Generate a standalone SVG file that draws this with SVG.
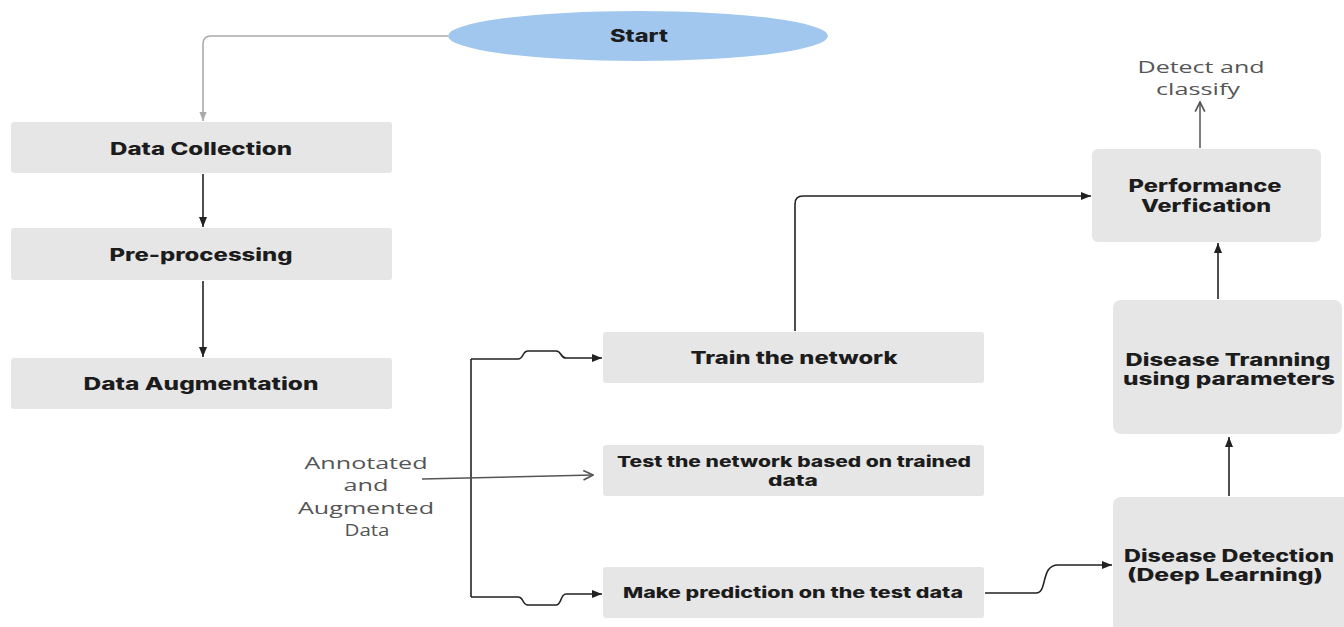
<svg xmlns="http://www.w3.org/2000/svg" width="1344" height="627" viewBox="0 0 1344 627">
<style>
.box{fill:#e6e6e6;}
.t{font-family:"Inter","Noto Sans","DejaVu Sans",sans-serif;font-weight:800;font-size:17px;fill:#1c1c1c;text-anchor:middle;}
.ts{font-size:15px;}
.lbl{font-family:"Open Sans","Noto Sans",sans-serif;font-size:16px;fill:#555;text-anchor:middle;}
.c{fill:none;stroke:#222;stroke-width:1.6;}
.cg{fill:none;stroke:#aaa;stroke-width:1.6;}
.co{fill:none;stroke:#555;stroke-width:1.5;}
</style>
<defs>
<marker id="arr" viewBox="0 0 10 10" refX="10" refY="5" markerWidth="10" markerHeight="10" markerUnits="userSpaceOnUse" orient="auto"><path d="M0,1 L10,5 L0,9 z" fill="#222"/></marker>
<marker id="arrg" viewBox="0 0 10 10" refX="10" refY="5" markerWidth="9" markerHeight="9" markerUnits="userSpaceOnUse" orient="auto"><path d="M0,1 L10,5 L0,9 z" fill="#aaa"/></marker>
<marker id="arro" viewBox="0 0 10 10" refX="9" refY="5" markerWidth="12" markerHeight="12" markerUnits="userSpaceOnUse" orient="auto"><path d="M1,1 L9,5 L1,9" fill="none" stroke="#555" stroke-width="1.4"/></marker>
</defs>
<rect width="1344" height="627" fill="#ffffff"/>
<g id="connectors">
<path class="cg" d="M448,36 H211 Q203,36 203,44 V121" marker-end="url(#arrg)"/>
<path class="c" d="M203,174 V227" marker-end="url(#arr)"/>
<path class="c" d="M203,281 V357" marker-end="url(#arr)"/>
<path class="c" d="M471,359 V597"/>
<path class="c" d="M471,359 H518 C524,359 522,351 528,351 H556 C562,351 560,358 566,358 H602" marker-end="url(#arr)"/>
<path class="c" d="M471,597 H518 C524,597 522,605 528,605 H556 C562,605 560,594 566,594 H602" marker-end="url(#arr)"/>
<path class="co" d="M422,479 L593,475" marker-end="url(#arro)"/>
<path class="c" d="M795,331 V204 Q795,196 803,196 H1091" marker-end="url(#arr)"/>
<path class="c" d="M985,593 H1036 C1048,593 1040,565 1058,565 H1112" marker-end="url(#arr)"/>
<path class="c" d="M1229,496 V437" marker-end="url(#arr)"/>
<path class="c" d="M1218,299 V243" marker-end="url(#arr)"/>
<path class="co" d="M1200,148 V102" marker-end="url(#arro)"/>
</g>
<g id="start">
<ellipse cx="638" cy="36" rx="190" ry="25" fill="#a1c7ef"/>
<text class="t" x="639" y="42" textLength="58" lengthAdjust="spacingAndGlyphs">Start</text>
</g>
<g id="data-collection">
<rect class="box" x="11" y="122" width="381" height="51" rx="3"/>
<text class="t" x="201" y="155" textLength="182" lengthAdjust="spacingAndGlyphs">Data Collection</text>
</g>
<g id="pre-processing">
<rect class="box" x="11" y="228" width="381" height="52" rx="3"/>
<text class="t" x="201" y="261" textLength="183" lengthAdjust="spacingAndGlyphs">Pre-processing</text>
</g>
<g id="data-augmentation">
<rect class="box" x="11" y="358" width="381" height="51" rx="3"/>
<text class="t" x="201" y="390" textLength="235" lengthAdjust="spacingAndGlyphs">Data Augmentation</text>
</g>
<g id="annotated-label">
<text class="lbl" x="366" y="469" textLength="123" lengthAdjust="spacingAndGlyphs">Annotated</text>
<text class="lbl" x="366" y="491" textLength="45" lengthAdjust="spacingAndGlyphs">and</text>
<text class="lbl" x="366" y="514" textLength="136" lengthAdjust="spacingAndGlyphs">Augmented</text>
<text class="lbl" x="367" y="536" textLength="45" lengthAdjust="spacingAndGlyphs">Data</text>
</g>
<g id="train">
<rect class="box" x="603" y="332" width="381" height="51" rx="3"/>
<text class="t" x="794" y="364" textLength="207" lengthAdjust="spacingAndGlyphs">Train the network</text>
</g>
<g id="test">
<rect class="box" x="603" y="445" width="381" height="51" rx="3"/>
<text class="t ts" x="794" y="467" textLength="354" lengthAdjust="spacingAndGlyphs">Test the network based on trained</text>
<text class="t ts" x="793" y="486" textLength="50" lengthAdjust="spacingAndGlyphs">data</text>
</g>
<g id="predict">
<rect class="box" x="603" y="567" width="381" height="51" rx="3"/>
<text class="t ts" x="793" y="598" textLength="340" lengthAdjust="spacingAndGlyphs">Make prediction on the test data</text>
</g>
<g id="disease-detection">
<rect class="box" x="1113" y="497" width="240" height="140" rx="8"/>
<text class="t" x="1229" y="562" textLength="210" lengthAdjust="spacingAndGlyphs">Disease Detection</text>
<text class="t" x="1225" y="581" textLength="196" lengthAdjust="spacingAndGlyphs">(Deep Learning)</text>
</g>
<g id="disease-training">
<rect class="box" x="1113" y="300" width="229" height="134" rx="8"/>
<text class="t" x="1228" y="366" textLength="205" lengthAdjust="spacingAndGlyphs">Disease Tranning</text>
<text class="t" x="1229" y="385" textLength="212" lengthAdjust="spacingAndGlyphs">using parameters</text>
</g>
<g id="performance">
<rect class="box" x="1092" y="149" width="229" height="93" rx="6"/>
<text class="t" x="1205" y="192" textLength="153" lengthAdjust="spacingAndGlyphs">Performance</text>
<text class="t" x="1206" y="212" textLength="130" lengthAdjust="spacingAndGlyphs">Verfication</text>
</g>
<g id="detect-label">
<text class="lbl" x="1201" y="73" textLength="127" lengthAdjust="spacingAndGlyphs">Detect and</text>
<text class="lbl" x="1198" y="95" textLength="84" lengthAdjust="spacingAndGlyphs">classify</text>
</g>
</svg>
